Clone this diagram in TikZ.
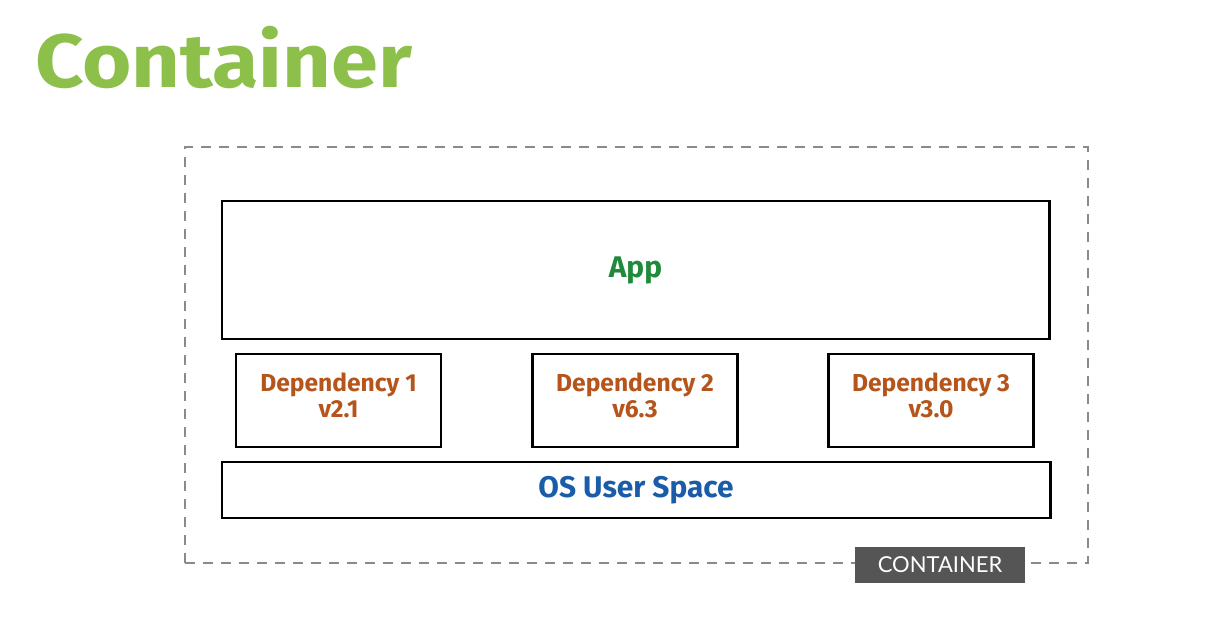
\documentclass[tikz,border=0pt]{standalone}
\usepackage{fontspec}
\usepackage{tikz}
\newfontfamily\labelfont{Fira Sans}
\newfontfamily\tagfont{Lato}
\definecolor{titlegreen}{HTML}{8CC04B}
\definecolor{appgreen}{HTML}{1E8A3A}
\definecolor{deporange}{HTML}{B5541B}
\definecolor{osblue}{HTML}{1A5CA8}
\definecolor{tagfill}{HTML}{555555}
\definecolor{dashgray}{HTML}{8A8A8A}

\begin{document}
\begin{tikzpicture}[
		every node/.style={rectangle, inner sep=0pt, align=center},
		layerbox/.style={draw, line width=1.7pt, font=\labelfont\bfseries\fontsize{17}{20}\selectfont},
		depbox/.style={layerbox, minimum width=4.1cm, minimum height=1.86cm,
			text=deporange, font=\labelfont\bfseries\fontsize{14}{15}\selectfont}
	]
  \useasboundingbox (0cm, 0cm) rectangle (24.12cm, -12.5cm);
  \node (title) [anchor=base west, text=titlegreen, xscale=1.12, transform shape,
    font=\labelfont\bfseries\fontsize{43}{48}\selectfont] at (0.7cm, -1.76cm) {Container};
  \node (frame) [draw=dashgray, line width=1.2pt, dash pattern=on 0.2cm off 0.16cm,
    minimum width=18.06cm, minimum height=8.32cm] at (12.73cm, -7.1cm) {};
  \node (app) [layerbox, minimum width=16.54cm, minimum height=2.76cm, text=appgreen] at (12.71cm, -5.4cm) {App};
  \node (dep_1) [depbox] at (6.77cm, -8.01cm) {};
  \node (dep_2) [depbox] at (12.7cm, -8.01cm) {};
  \node (dep_3) [depbox] at (18.62cm, -8.01cm) {};
  \node (dep_1_label) [text=deporange, font=\labelfont\bfseries\fontsize{14}{15}\selectfont] at ([yshift=0.1cm]dep_1) {Dependency 1\\v2.1};
  \node (dep_2_label) [text=deporange, font=\labelfont\bfseries\fontsize{14}{15}\selectfont] at ([yshift=0.1cm]dep_2) {Dependency 2\\v6.3};
  \node (dep_3_label) [text=deporange, font=\labelfont\bfseries\fontsize{14}{15}\selectfont] at ([yshift=0.1cm]dep_3) {Dependency 3\\v3.0};
  \node (os) [layerbox, minimum width=16.56cm, minimum height=1.12cm, text=osblue] at (12.72cm, -9.8cm) {OS User Space};
  \node (tag) [fill=tagfill, text=white, minimum width=3.4cm, minimum height=0.72cm,
    font=\tagfont\fontsize{12.5}{14}\selectfont] at (18.8cm, -11.3cm) {CONTAINER};
\end{tikzpicture}
\end{document}
